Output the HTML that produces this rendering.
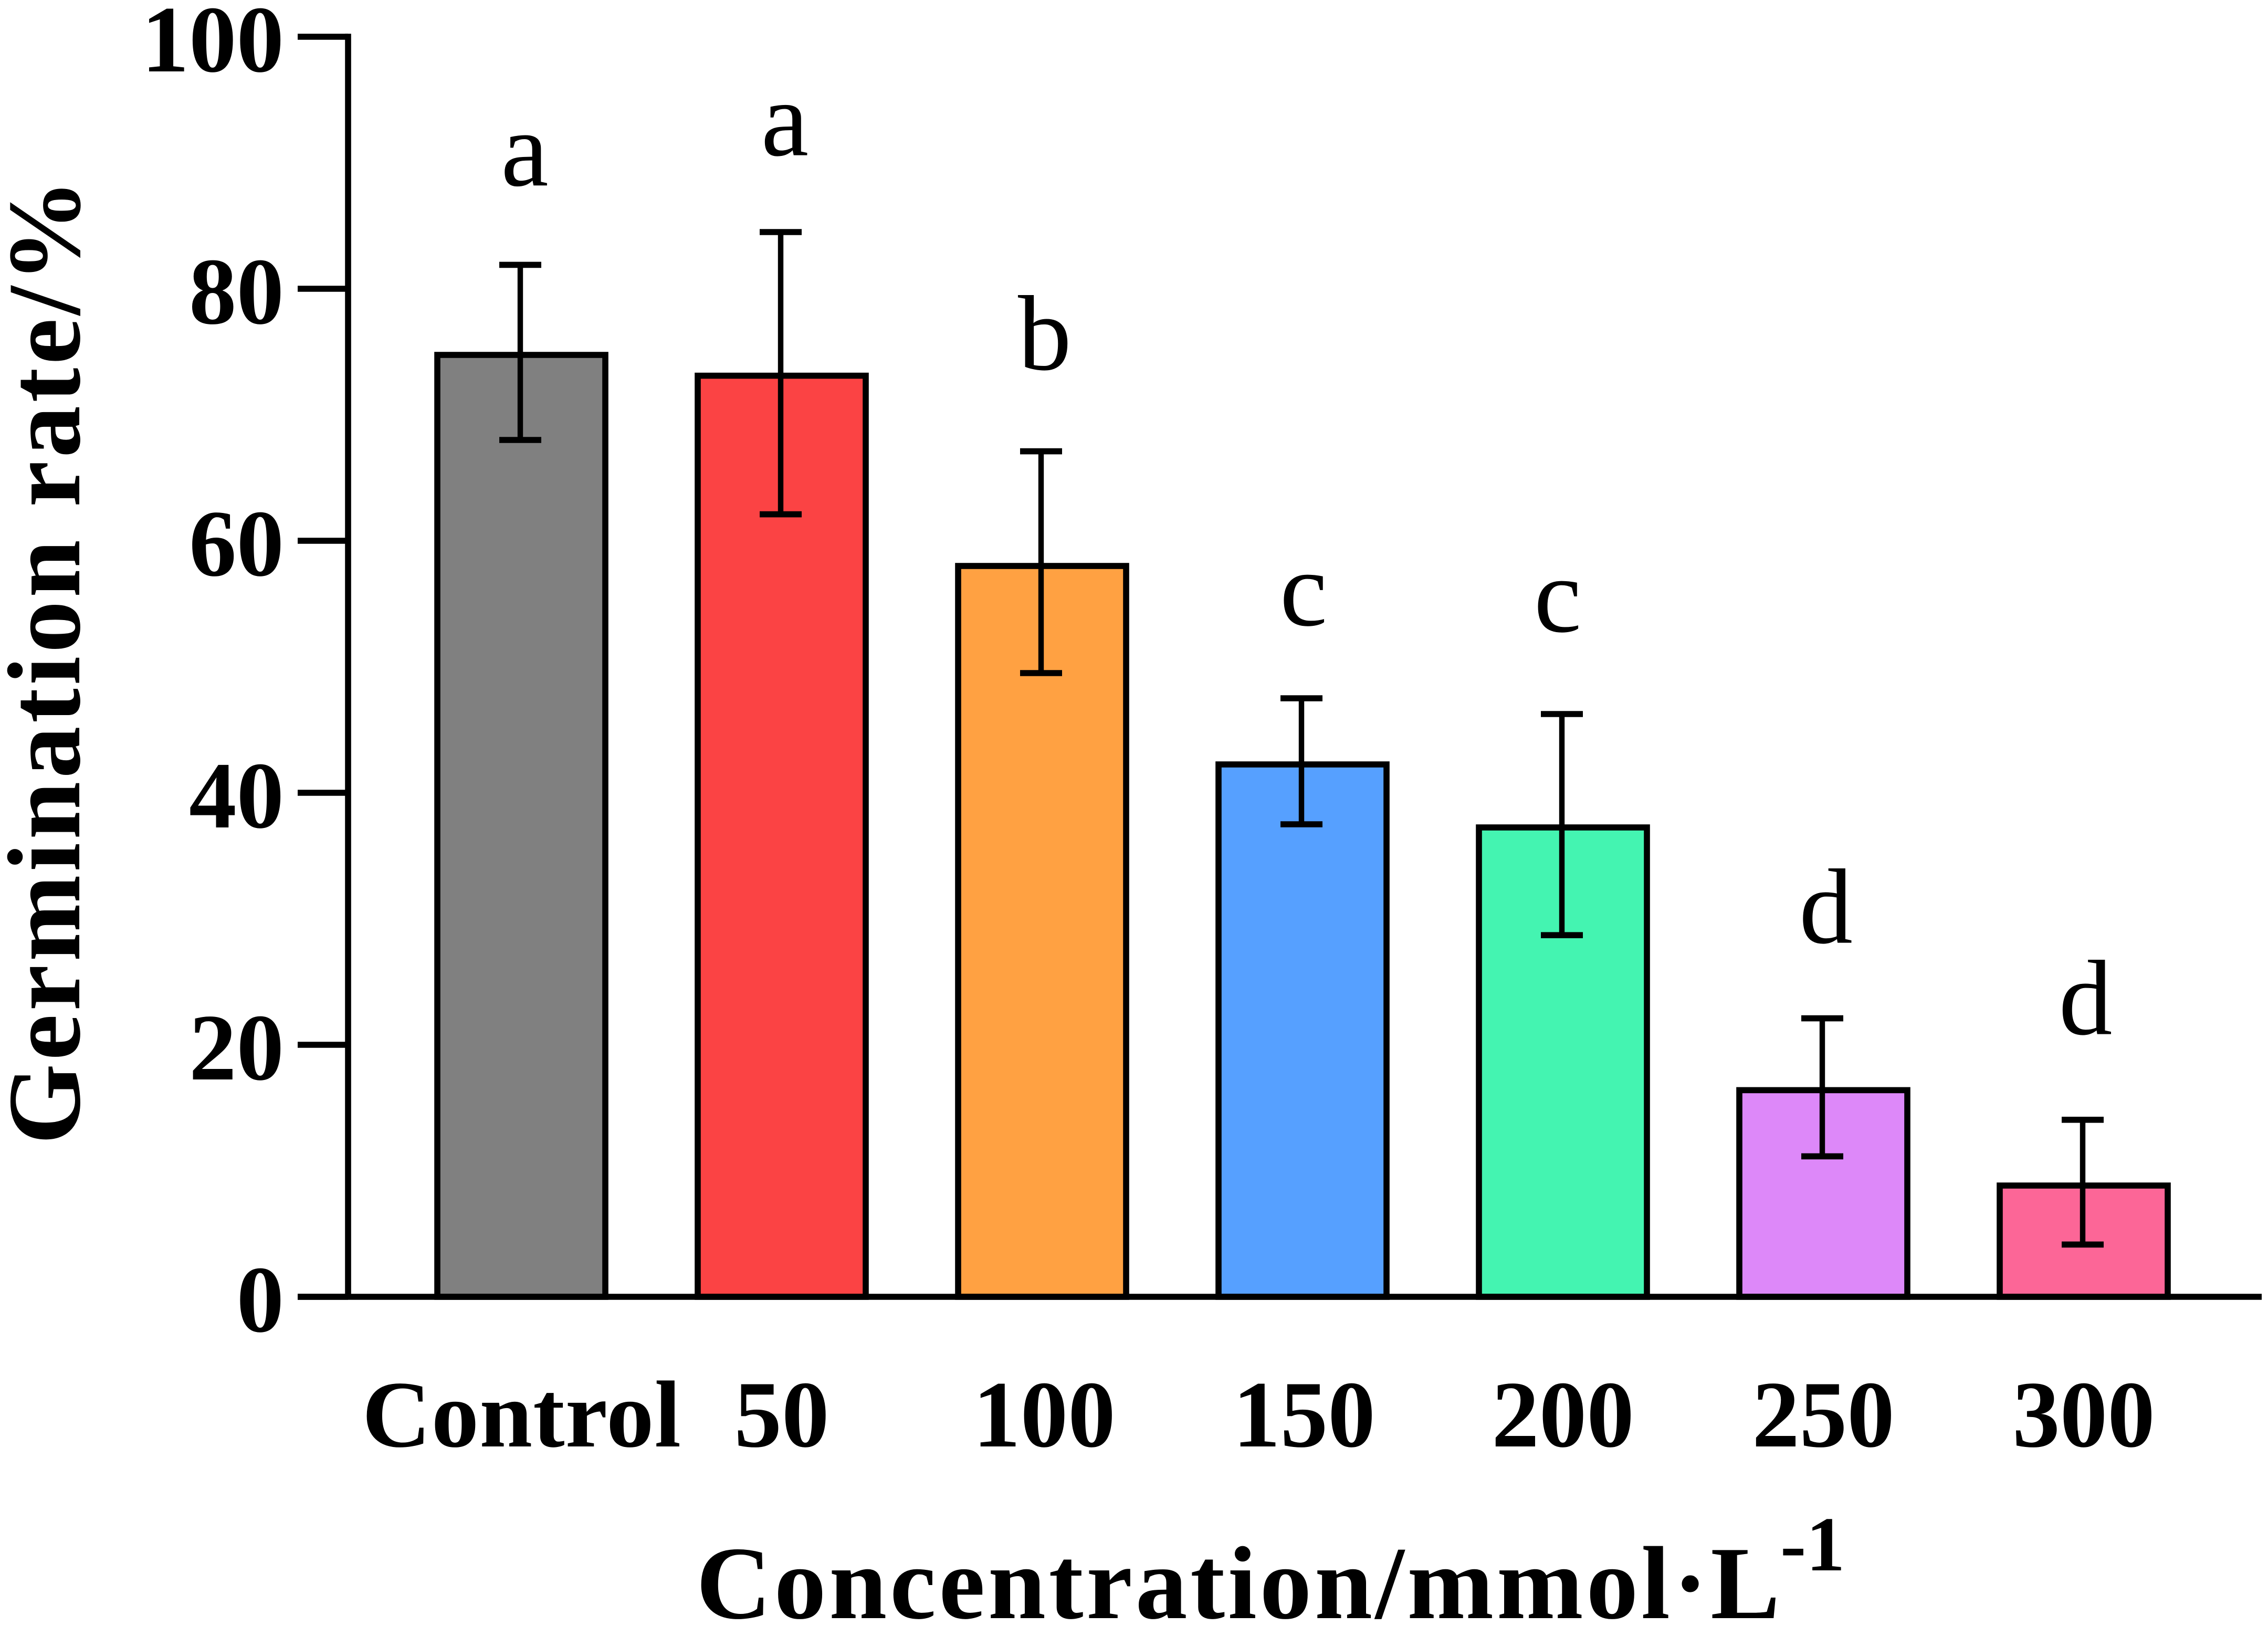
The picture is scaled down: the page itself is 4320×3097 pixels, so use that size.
<!DOCTYPE html>
<html lang="en">
<head>
<meta charset="utf-8">
<title>Germination rate by concentration</title>
<style>
  html, body { margin: 0; padding: 0; background: #fff; }
  svg { display: block; }
  text { font-family: "Liberation Serif", serif; fill: #000; }
  .bold { font-weight: 700; }
</style>
</head>
<body>
<svg id="chart" xmlns="http://www.w3.org/2000/svg" width="4320" height="3097" viewBox="0 0 4320 3097">
  <rect x="0" y="0" width="4320" height="3097" fill="#ffffff"></rect>
  <g id="bars"></g>
  <g id="errors"></g>
  <g id="axes"></g>
  <g id="letters"></g>
  <text class="bold" transform="translate(151,2180) rotate(-90)" font-size="198" letter-spacing="6.3">Germination rate/%</text>
  <text class="bold" x="1326" y="3082" font-size="198" letter-spacing="5.6">Concentration/mmol·L</text>
  <text class="bold" x="3391" y="2991" font-size="148">-1</text>
</svg>
<script>
const categories = ["Control", "50", "100", "150", "200", "250", "300"];
const means = [74.75, 73.1, 58, 42.25, 37.25, 16.4, 8.83];
const upperErrors = [81.9, 84.5, 67.1, 47.5, 46.25, 22.1, 14.05];
const lowerErrors = [68, 62.1, 49.5, 37.5, 28.7, 11.15, 4.15];
const letters = ["a", "a", "b", "c", "c", "d", "d"];
const letterLevels = [88.2, 90.6, 73.6, 53.3, 52.8, 28.1, 20.85];
const letterShifts = [0.013, 0.012, 0.01, 0.004, -0.02, 0.01, 0.007];
const labelShifts = [0.002, 0, 0.008, 0.006, 0, 0, 0];
const yTicks = [0, 20, 40, 60, 80, 100];
const colors = ["#808080", "#FB4344", "#FFA142", "#56A0FF", "#44F4B1", "#DD88F9", "#FC6697"];

const NS = "http://www.w3.org/2000/svg";
const plot = { y0: 2470, unit: 24, xStart: 993, step: 496, barW: 320, line: 11.6, stem: 10.4, capW: 80, stemShift: -2 };
const yScale = function (v) { return plot.y0 - v * plot.unit; };
const xScale = function (i) { return plot.xStart + i * plot.step; };

function make(tag, attrs, parent) {
  const el = document.createElementNS(NS, tag);
  for (const k in attrs) el.setAttribute(k, attrs[k]);
  parent.appendChild(el);
  return el;
}

const barsG = document.getElementById("bars");
const errorsG = document.getElementById("errors");
const axesG = document.getElementById("axes");
const lettersG = document.getElementById("letters");

categories.forEach(function (cat, i) {
  const cx = xScale(i);

  const bar = make("rect", {
    x: cx - plot.barW / 2,
    y: yScale(means[i]),
    width: plot.barW,
    height: yScale(0) - yScale(means[i]),
    fill: colors[i],
    stroke: "#000",
    "stroke-width": plot.line
  }, barsG);
  
  

  const ex = cx + plot.stemShift;
  const stem = make("line", {
    x1: ex, x2: ex, y1: yScale(upperErrors[i]), y2: yScale(lowerErrors[i]),
    stroke: "#000", "stroke-width": plot.stem
  }, errorsG);
  
  

  const capTop = make("line", {
    x1: ex - plot.capW / 2, x2: ex + plot.capW / 2, y1: yScale(upperErrors[i]), y2: yScale(upperErrors[i]),
    stroke: "#000", "stroke-width": plot.line
  }, errorsG);
  
  

  const capBottom = make("line", {
    x1: ex - plot.capW / 2, x2: ex + plot.capW / 2, y1: yScale(lowerErrors[i]), y2: yScale(lowerErrors[i]),
    stroke: "#000", "stroke-width": plot.line
  }, errorsG);
  
  

  const letter = make("text", {
    x: xScale(i + letterShifts[i]),
    y: yScale(letterLevels[i]),
    "font-size": 204,
    "text-anchor": "middle"
  }, lettersG);
  letter.textContent = letters[i];
  
  

  const label = make("text", {
    x: xScale(i + labelShifts[i]),
    y: 2755,
    "font-size": 181,
    "font-weight": 700,
    "text-anchor": "middle",
    "letter-spacing": cat === "Control" ? 1.2 : 0
  }, axesG);
  label.textContent = cat;
  
  
});

const yAxis = make("line", {
  x1: 663, x2: 663, y1: yScale(100) - plot.line / 2, y2: yScale(0),
  stroke: "#000", "stroke-width": plot.line
}, axesG);



const xAxis = make("line", {
  x1: 567, x2: 4308, y1: yScale(0), y2: yScale(0),
  stroke: "#000", "stroke-width": plot.line
}, axesG);



yTicks.forEach(function (t) {
  const tick = make("line", {
    x1: 567, x2: 663, y1: yScale(t), y2: yScale(t),
    stroke: "#000", "stroke-width": plot.line
  }, axesG);
  
  

  const label = make("text", {
    x: 541,
    y: yScale(t) + 66,
    "font-size": 181,
    "font-weight": 700,
    "text-anchor": "end"
  }, axesG);
  label.textContent = String(t);
  
  
});
</script>
</body>
</html>
